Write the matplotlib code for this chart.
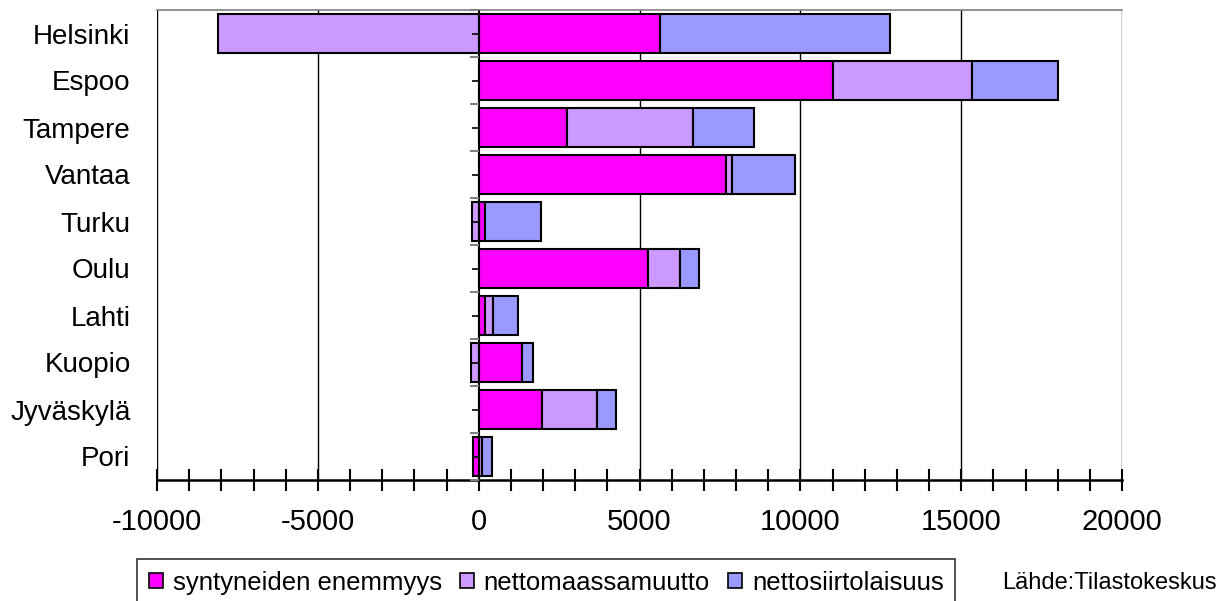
import matplotlib
matplotlib.use("Agg")
import matplotlib.pyplot as plt
from matplotlib.patches import Patch
import numpy as np

plt.rcParams['font.family'] = ['Liberation Sans', 'DejaVu Sans']
plt.rcParams['axes.unicode_minus'] = False

cities = ["Helsinki", "Espoo", "Tampere", "Vantaa", "Turku", "Oulu",
          "Lahti", "Kuopio", "Jyväskylä", "Pori"]
syntyneiden_enemmyys = [5650, 11000, 2750, 7700, 210, 5250, 210, 1340, 1970, -170]
nettomaassamuutto = [-8100, 4350, 3900, 170, -200, 1000, 250, -230, 1700, 110]
nettosiirtolaisuus = [7150, 2650, 1900, 1950, 1720, 600, 770, 360, 610, 300]
series_names = ["syntyneiden enemmyys", "nettomaassamuutto", "nettosiirtolaisuus"]
colors = ["#FF00FF", "#CC99FF", "#9999FF"]
xticks = [-10000, -5000, 0, 5000, 10000, 15000, 20000]
source_text = "Lähde:Tilastokeskus"

W, H = 1232, 601
fig = plt.figure(figsize=(W / 100, H / 100), dpi=100)
ax = fig.add_axes([157 / W, (H - 480) / H, (1122 - 157) / W, (480 - 10) / H])

y = np.arange(len(cities))
pos_left = np.zeros(len(cities))
neg_left = np.zeros(len(cities))
for vals, col in zip([syntyneiden_enemmyys, nettomaassamuutto, nettosiirtolaisuus], colors):
    v = np.array(vals, dtype=float)
    left = np.where(v >= 0, pos_left, neg_left)
    ax.barh(y, v, left=left, height=0.85, color=col, edgecolor="black",
            linewidth=1.5, zorder=3)
    pos_left = pos_left + np.where(v >= 0, v, 0)
    neg_left = neg_left + np.where(v < 0, v, 0)

ax.set_xlim(-10000, 20000)
ax.set_ylim(len(cities) - 0.5, -0.5)

# grid
for gx in xticks:
    if gx != 0:
        ax.axvline(gx, color="black", linewidth=1.0, zorder=1)
ax.axvline(0, color="black", linewidth=1.5, zorder=4)

# spines
for s in ["left", "right"]:
    ax.spines[s].set_visible(False)
ax.spines["top"].set_color("#808080")
ax.spines["top"].set_linewidth(1.2)
ax.spines["bottom"].set_linewidth(1.8)

ax.set_xticks(xticks)
ax.set_xticks(np.arange(-10000, 20001, 1000), minor=True)
ax.tick_params(axis="x", which="both", direction="inout", length=16, width=1.5,
               labelsize=21, pad=12)
ax.set_yticks(y)
ax.set_yticklabels(cities)
ax.tick_params(axis="y", which="both", length=0, labelsize=20, pad=19)

# category ticks at the zero axis
for b in np.arange(len(cities) + 1) - 0.5:
    ax.plot([-260, 0], [b, b], color="#808080", linewidth=1.5, zorder=5,
            solid_capstyle="butt", clip_on=False)
for c in y:
    ax.plot([-200, 0], [c, c], color="black", linewidth=1.2, zorder=5,
            solid_capstyle="butt")

fs_leg = 18.5
fs_px = fs_leg * 100 / 72
handles = [Patch(facecolor=c, edgecolor="black", linewidth=1.2) for c in colors]
leg = fig.legend(handles, series_names, loc="upper left",
                 bbox_to_anchor=(137 / W, (H - 559) / H), ncol=3,
                 fontsize=fs_leg, frameon=True, fancybox=False, edgecolor="black",
                 handlelength=14 / fs_px, handleheight=14 / fs_px,
                 handletextpad=10 / fs_px, columnspacing=18 / fs_px,
                 borderpad=0.45, borderaxespad=0)
leg.get_frame().set_linewidth(1.2)

fig.text(1002 / W, (H - 583) / H, source_text, fontsize=17, va="center", ha="left")

fig.savefig("out.png", dpi=100)
